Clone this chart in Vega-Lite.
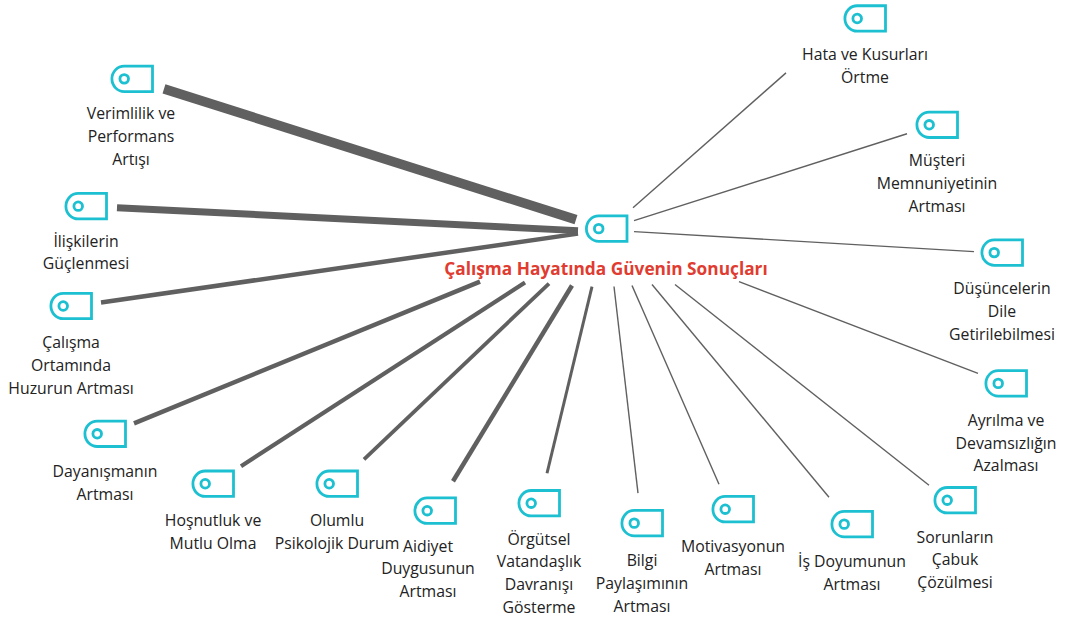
{
"$schema":"https://vega.github.io/schema/vega-lite/v6.json",
"width":1066,"height":620,"padding":0,"autosize":{"type":"fit","contains":"padding"},
"background":"white","view":{"stroke":null},
"config":{"axis":{"disable":true}},
"datasets":{"nodes":[
{"name":"Verimlilik ve\nPerformans\nArtışı","ix":132,"iy":78,"lx":131,"ly":118.5,"x1":164,"y1":88,"x2":576,"y2":219,"weight":9.5},
{"name":"İlişkilerin\nGüçlenmesi","ix":86,"iy":205.5,"lx":86,"ly":246,"x1":117,"y1":207,"x2":578,"y2":230,"weight":7},
{"name":"Çalışma\nOrtamında\nHuzurun Artması","ix":71,"iy":305.5,"lx":71,"ly":348,"x1":101,"y1":302,"x2":578,"y2":233,"weight":4.5},
{"name":"Dayanışmanın\nArtması","ix":105,"iy":433.5,"lx":105,"ly":476.5,"x1":134,"y1":423,"x2":480,"y2":281,"weight":4.5},
{"name":"Hoşnutluk ve\nMutlu Olma","ix":213,"iy":483.5,"lx":213,"ly":526,"x1":241,"y1":466,"x2":525,"y2":282,"weight":4.2},
{"name":"Olumlu\nPsikolojik Durum","ix":337,"iy":483.5,"lx":337,"ly":526,"x1":364,"y1":459,"x2":549,"y2":283,"weight":3.8},
{"name":"Aidiyet\nDuygusunun\nArtması","ix":435,"iy":510.5,"lx":428,"ly":551.5,"x1":453,"y1":481,"x2":572,"y2":285,"weight":4.5},
{"name":"Örgütsel\nVatandaşlık\nDavranışı\nGösterme","ix":539,"iy":503,"lx":539,"ly":544.5,"x1":547,"y1":473,"x2":592,"y2":286,"weight":3},
{"name":"Bilgi\nPaylaşımının\nArtması","ix":642,"iy":523,"lx":642,"ly":566,"x1":638,"y1":493,"x2":614,"y2":286,"weight":1.4},
{"name":"Motivasyonun\nArtması","ix":733,"iy":509,"lx":733,"ly":552,"x1":719,"y1":484,"x2":632,"y2":285,"weight":1.4},
{"name":"İş Doyumunun\nArtması","ix":852,"iy":524,"lx":852,"ly":567,"x1":829,"y1":497,"x2":652,"y2":284,"weight":1.4},
{"name":"Sorunların\nÇabuk\nÇözülmesi","ix":955,"iy":500,"lx":955,"ly":542.5,"x1":929,"y1":485,"x2":675,"y2":284,"weight":1.4},
{"name":"Ayrılma ve\nDevamsızlığın\nAzalması","ix":1006,"iy":383,"lx":1006,"ly":425.5,"x1":978,"y1":373,"x2":739,"y2":281,"weight":1.4},
{"name":"Düşüncelerin\nDile\nGetirilebilmesi","ix":1002,"iy":252,"lx":1002,"ly":293.5,"x1":974,"y1":251,"x2":634,"y2":231,"weight":1.4},
{"name":"Müşteri\nMemnuniyetinin\nArtması","ix":937,"iy":124,"lx":937,"ly":165.5,"x1":907,"y1":133,"x2":634,"y2":220,"weight":1.4},
{"name":"Hata ve Kusurları\nÖrtme","ix":865,"iy":17.5,"lx":865,"ly":59,"x1":786,"y1":72,"x2":633,"y2":207,"weight":1.4}
],
"center":[{"name":"Çalışma Hayatında Güvenin Sonuçları","ix":606.5,"iy":228,"lx":606,"ly":274}]},
"layer":[
{"data":{"name":"nodes"},"mark":{"type":"rule","color":"#606060"},
 "encoding":{"x":{"field":"x1","type":"quantitative","scale":{"domain":[0,1066],"nice":false,"zero":false},"axis":null},
 "y":{"field":"y1","type":"quantitative","scale":{"domain":[620,0],"nice":false,"zero":false},"axis":null},
 "x2":{"field":"x2"},"y2":{"field":"y2"},
 "strokeWidth":{"field":"weight","type":"quantitative","scale":null,"legend":null}}},
{"data":{"name":"nodes"},"mark":{"type":"point","filled":false,"stroke":"#1cc0d0","strokeWidth":2.8,"opacity":1,"size":1681,
 "shape":"M1,-0.62 H-0.38 A0.6,0.62 0 0 0 -0.38,0.62 H1 Z M-0.17,0 A0.21,0.21 0 1 1 -0.59,0 A0.21,0.21 0 1 1 -0.17,0 Z"},
 "encoding":{"x":{"field":"ix","type":"quantitative"},"y":{"field":"iy","type":"quantitative"}}},
{"data":{"name":"center"},"mark":{"type":"point","filled":false,"stroke":"#1cc0d0","strokeWidth":2.8,"opacity":1,"size":1681,
 "shape":"M1,-0.62 H-0.38 A0.6,0.62 0 0 0 -0.38,0.62 H1 Z M-0.17,0 A0.21,0.21 0 1 1 -0.59,0 A0.21,0.21 0 1 1 -0.17,0 Z"},
 "encoding":{"x":{"field":"ix","type":"quantitative"},"y":{"field":"iy","type":"quantitative"}}},
{"data":{"name":"nodes"},"mark":{"type":"text","font":"Open Sans","fontSize":15.8,"color":"#222222","align":"center","baseline":"alphabetic","lineBreak":"\n","lineHeight":22.8},
 "encoding":{"x":{"field":"lx","type":"quantitative"},"y":{"field":"ly","type":"quantitative"},"text":{"field":"name","type":"nominal"}}},
{"data":{"name":"center"},"mark":{"type":"text","font":"Open Sans","fontSize":17.3,"fontWeight":"bold","color":"#e03c31","align":"center","baseline":"alphabetic"},
 "encoding":{"x":{"field":"lx","type":"quantitative"},"y":{"field":"ly","type":"quantitative"},"text":{"field":"name","type":"nominal"}}}
]}
